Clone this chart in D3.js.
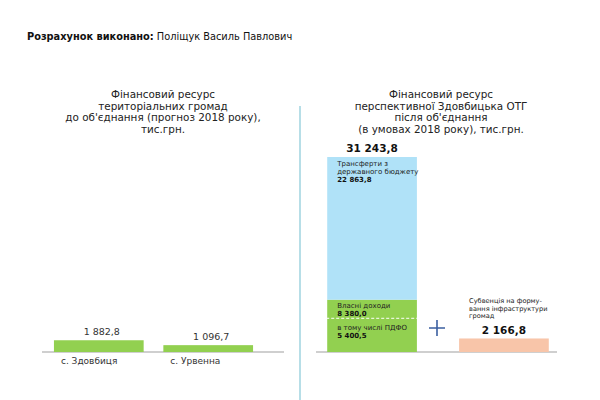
<!DOCTYPE html>
<html>
<head>
<meta charset="utf-8">
<script src="https://cdn.jsdelivr.net/npm/d3@7"></script>
<style>
    body { margin: 0; background: #fff; }
    svg { font-family: "DejaVu Sans", sans-serif; }
</style>
</head>
<body>
<svg></svg>
<script>
// data
const communities = ["с. Здовбиця", "с. Урвенна"];
const communityValues = [1882.8, 1096.7];

const stackKeys = ["own", "transfers"];
const stackValues = [8380.0, 22863.8];
const stackLabels = [["Власні доходи"], ["Трансферти з", "державного бюджету"]];
const pdfoLabel = ["в тому числі ПДФО"];
const pdfoValue = 5400.5;

const subventionLabel = ["Субвенція на форму-", "вання інфраструктури", "громад"];
const subventionValue = 2166.8;

const leftTitle = ["Фінансовий ресурс", "територіальних громад", "до об'єднання (прогноз 2018 року),", "тис.грн."];
const rightTitle = ["Фінансовий ресурс", "перспективної Здовбицька ОТГ", "після об'єднання", "(в умовах 2018 року), тис.грн."];

(function () {
    const width = 600;
    const height = 400;
    const baseline = 352;

    const fmt = d3.formatLocale({ decimal: ",", thousands: " ", grouping: [3], currency: ["", ""] }).format(",.1f");

    let svg = d3.select("svg")
        .attr("width", width)
        .attr("height", height);

    // author line
    let author = svg.append("text")
        .attr("x", 27)
        .attr("y", 40)
        .attr("font-size", 9.8)
        .attr("fill", "#111");
    author.append("tspan").attr("font-weight", "bold").text("Розрахунок виконано:");
    author.append("tspan").text(" Поліщук Василь Павлович");

    const total = d3.sum(stackValues);

    let y = d3.scaleLinear()
        .domain([0, total])
        .range([baseline, 157]);

    // titles
    function title(lines, cx) {
        svg.append("g").selectAll("text")
            .data(lines)
            .enter()
            .append("text")
            .attr("x", cx)
            .attr("y", (d, i) => 98 + i * 11.5)
            .attr("text-anchor", "middle")
            .attr("font-size", 10.4)
            .attr("fill", "#222")
            .text(d => d);
    }
    title(leftTitle, 163);
    title(rightTitle, 441);

    // divider
    svg.append("line")
        .attr("x1", 300).attr("x2", 300)
        .attr("y1", 106).attr("y2", height)
        .attr("stroke", "#9fd3df")
        .attr("stroke-width", 1.5);

    // left panel
    let xLeft = d3.scaleBand()
        .domain(communities)
        .range([43, 264])
        .paddingInner(0.18)
        .paddingOuter(0.1);

    svg.append("line")
        .attr("x1", 42).attr("x2", 284)
        .attr("y1", baseline).attr("y2", baseline)
        .attr("stroke", "#bfbfbf")
        .attr("stroke-width", 1.5);

    svg.append("g").selectAll("rect")
        .data(communities)
        .enter()
        .append("rect")
        .attr("x", d => xLeft(d))
        .attr("width", xLeft.bandwidth())
        .attr("y", (d, i) => y(communityValues[i]))
        .attr("height", (d, i) => baseline - y(communityValues[i]))
        .attr("fill", "#92d050");

    svg.append("g").selectAll("text")
        .data(communities)
        .enter()
        .append("text")
        .attr("x", d => xLeft(d) + xLeft.bandwidth() / 2 + 3)
        .attr("y", (d, i) => y(communityValues[i]) - 5)
        .attr("text-anchor", "middle")
        .attr("font-size", 9.5)
        .attr("fill", "#333")
        .text((d, i) => fmt(communityValues[i]));

    svg.append("g").selectAll("text")
        .data(communities)
        .enter()
        .append("text")
        .attr("x", d => xLeft(d) + 7)
        .attr("y", baseline + 12)
        .attr("font-size", 9)
        .attr("fill", "#333")
        .text(d => d);

    // right panel
    let xRight = d3.scaleBand()
        .domain(["total", "subvention"])
        .range([316, 560])
        .paddingInner(0.32)
        .paddingOuter(0.085);

    svg.append("line")
        .attr("x1", 316).attr("x2", 557)
        .attr("y1", baseline).attr("y2", baseline)
        .attr("stroke", "#bfbfbf")
        .attr("stroke-width", 1.5);

    let stack = d3.stack().keys(stackKeys)([
        Object.fromEntries(stackKeys.map((k, i) => [k, stackValues[i]]))
    ]);
    const colors = { own: "#92d050", transfers: "#b0e2f8" };

    let bx = xRight("total");
    let bw = xRight.bandwidth();

    svg.append("g").selectAll("rect")
        .data(stack)
        .enter()
        .append("rect")
        .attr("x", bx)
        .attr("width", bw)
        .attr("y", d => y(d[0][1]))
        .attr("height", d => y(d[0][0]) - y(d[0][1]))
        .attr("fill", d => colors[d.key]);

    // dashed PDFO split
    svg.append("line")
        .attr("x1", bx - 6).attr("x2", bx + bw)
        .attr("y1", y(pdfoValue)).attr("y2", y(pdfoValue))
        .attr("stroke", "#fff")
        .attr("stroke-width", 1)
        .attr("stroke-dasharray", "3,2");

    function block(lines, value, x, yTop, size, lh) {
        let g = svg.append("g");
        g.selectAll("text")
            .data(lines)
            .enter()
            .append("text")
            .attr("x", x)
            .attr("y", (d, i) => yTop + i * lh)
            .attr("font-size", size)
            .attr("fill", "#222")
            .text(d => d);
        g.append("text")
            .attr("x", x)
            .attr("y", yTop + lines.length * lh)
            .attr("font-size", size)
            .attr("font-weight", "bold")
            .attr("fill", "#111")
            .text(fmt(value));
    }

    // segment labels
    stack.forEach((s, i) => {
        block(stackLabels[i], stackValues[i], bx + 10, y(s[0][1]) + 8.5, 7, 8);
    });
    block(pdfoLabel, pdfoValue, bx + 10, y(pdfoValue) + 12, 7, 8);

    // total value
    svg.append("text")
        .attr("x", bx + bw / 2)
        .attr("y", y(total) - 5)
        .attr("text-anchor", "middle")
        .attr("font-size", 10.5)
        .attr("font-weight", "bold")
        .attr("fill", "#111")
        .text(fmt(total));

    // subvention
    let sx = xRight("subvention");
    svg.append("rect")
        .attr("x", sx)
        .attr("width", bw)
        .attr("y", y(subventionValue))
        .attr("height", baseline - y(subventionValue))
        .attr("fill", "#f8c5a9");

    svg.append("g").selectAll("text")
        .data(subventionLabel)
        .enter()
        .append("text")
        .attr("x", sx + 10)
        .attr("y", (d, i) => 303 + i * 7.5)
        .attr("font-size", 6.6)
        .attr("fill", "#222")
        .text(d => d);

    svg.append("text")
        .attr("x", sx + bw / 2)
        .attr("y", y(subventionValue) - 4)
        .attr("text-anchor", "middle")
        .attr("font-size", 10.5)
        .attr("font-weight", "bold")
        .attr("fill", "#111")
        .text(fmt(subventionValue));

    // plus sign between bars
    let px = (bx + bw + sx) / 2 - 1;
    let py = 328;
    svg.append("path")
        .attr("d", `M${px - 8},${py}H${px + 8}M${px},${py - 8}V${py + 8}`)
        .attr("stroke", "#3b5fa0")
        .attr("stroke-width", 1.6)
        .attr("fill", "none");
})();
</script>
</body>
</html>
